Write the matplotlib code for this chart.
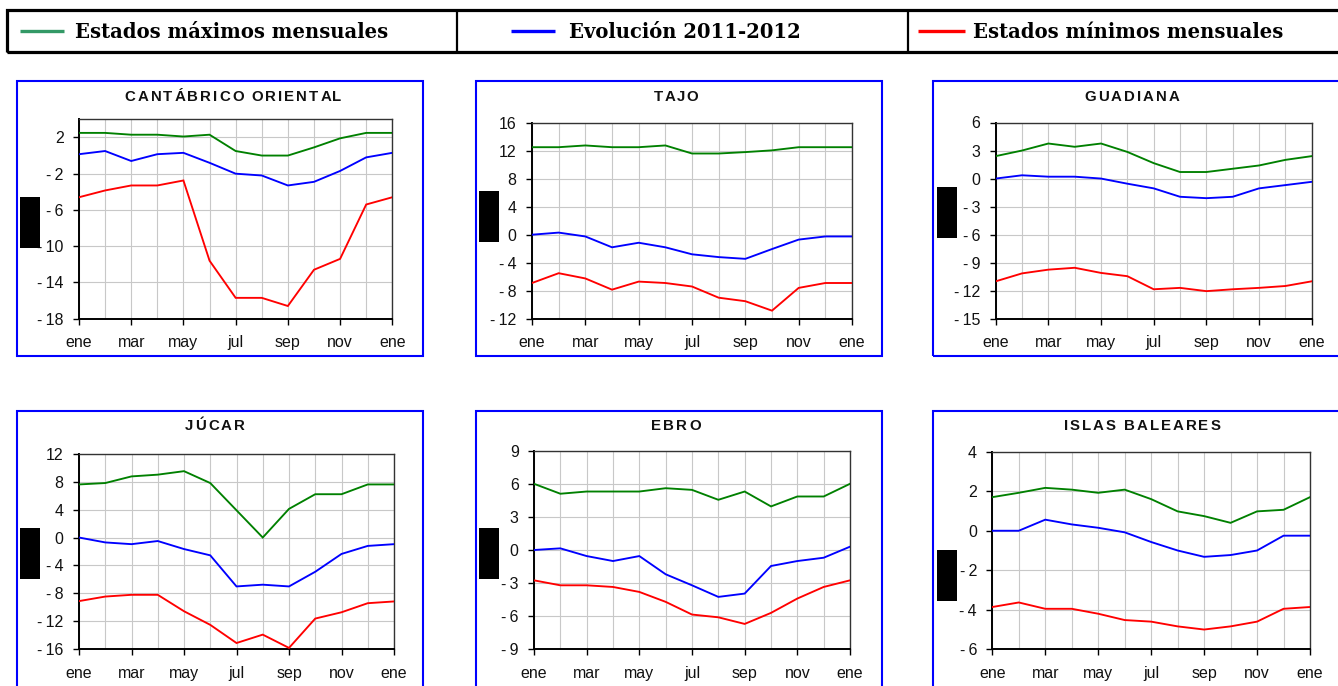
import matplotlib
matplotlib.use("Agg")
import matplotlib.pyplot as plt
import numpy as np
from matplotlib.patches import Rectangle
from matplotlib.lines import Line2D
from matplotlib.font_manager import FontProperties
from matplotlib.ticker import FixedLocator

W, H = 1338, 686

# ---------------- data ----------------
month_tick_labels = ["ene", "mar", "may", "jul", "sep", "nov", "ene"]
legend_labels = ["Estados máximos mensuales", "Evolución 2011-2012", "Estados mínimos mensuales"]
basin_titles = ["CANTÁBRICO ORIENTAL", "TAJO", "GUADIANA", "JÚCAR", "EBRO", "ISLAS BALEARES"]

cant_max = [2.5, 2.5, 2.3, 2.3, 2.1, 2.3, 0.5, 0.0, 0.0, 0.9, 1.9, 2.5, 2.5]
cant_evo = [0.15, 0.5, -0.6, 0.15, 0.3, -0.8, -2.0, -2.2, -3.3, -2.9, -1.7, -0.2, 0.3]
cant_min = [-4.6, -3.85, -3.3, -3.3, -2.75, -11.6, -15.7, -15.7, -16.6, -12.6, -11.4, -5.4, -4.6]

tajo_max = [12.5, 12.5, 12.75, 12.5, 12.5, 12.75, 11.6, 11.6, 11.8, 12.05, 12.5, 12.5, 12.5]
tajo_evo = [0.0, 0.3, -0.25, -1.8, -1.15, -1.8, -2.8, -3.2, -3.45, -2.05, -0.7, -0.25, -0.25]
tajo_min = [-6.9, -5.5, -6.25, -7.85, -6.7, -6.9, -7.4, -9.0, -9.5, -10.85, -7.6, -6.9, -6.9]

guad_max = [2.4, 3.0, 3.75, 3.4, 3.75, 2.85, 1.65, 0.7, 0.7, 1.05, 1.4, 2.0, 2.4]
guad_evo = [0.0, 0.35, 0.2, 0.2, 0.0, -0.55, -1.05, -1.95, -2.1, -1.95, -1.05, -0.7, -0.35]
guad_min = [-11.0, -10.15, -9.75, -9.55, -10.1, -10.45, -11.85, -11.7, -12.05, -11.85, -11.7, -11.5, -11.0]

jucar_max = [7.6, 7.8, 8.75, 9.0, 9.5, 7.8, 3.9, 0.0, 4.1, 6.2, 6.2, 7.6, 7.6]
jucar_evo = [0.0, -0.7, -0.95, -0.5, -1.65, -2.55, -7.0, -6.75, -7.0, -4.9, -2.35, -1.2, -0.95]
jucar_min = [-9.1, -8.45, -8.2, -8.2, -10.55, -12.5, -15.1, -13.9, -15.8, -11.6, -10.7, -9.4, -9.15]

ebro_max = [6.0, 5.1, 5.3, 5.3, 5.3, 5.6, 5.45, 4.55, 5.3, 3.95, 4.85, 4.85, 6.0]
ebro_evo = [0.0, 0.15, -0.55, -1.0, -0.55, -2.2, -3.2, -4.25, -3.95, -1.45, -1.0, -0.7, 0.3]
ebro_min = [-2.75, -3.2, -3.2, -3.35, -3.8, -4.7, -5.85, -6.1, -6.7, -5.7, -4.4, -3.35, -2.75]

bal_max = [1.7, 1.92, 2.17, 2.08, 1.92, 2.08, 1.6, 0.98, 0.74, 0.4, 0.98, 1.06, 1.7]
bal_evo = [0.0, 0.0, 0.56, 0.32, 0.15, -0.08, -0.57, -1.0, -1.32, -1.23, -1.0, -0.25, -0.25]
bal_min = [-3.86, -3.63, -3.95, -3.95, -4.2, -4.52, -4.6, -4.84, -5.0, -4.84, -4.6, -3.95, -3.86]

y_ranges = [(-18, 4, 4), (-12, 16, 4), (-15, 6, 3), (-16, 12, 4), (-9, 9, 3), (-6, 4, 2)]

series = [
    (cant_max, cant_evo, cant_min),
    (tajo_max, tajo_evo, tajo_min),
    (guad_max, guad_evo, guad_min),
    (jucar_max, jucar_evo, jucar_min),
    (ebro_max, ebro_evo, ebro_min),
    (bal_max, bal_evo, bal_min),
]

# ---------------- layout (pixels) ----------------
axes_px = [
    (79, 119.3, 392.3, 318.7),
    (532, 122.7, 852, 318.7),
    (995.7, 122.5, 1311.7, 318.7),
    (79, 453.7, 394, 649.3),
    (534, 450.7, 850, 649.3),
    (992.3, 451.7, 1310, 649.3),
]
frames_px = [
    (17, 81, 423, 356),
    (476, 81, 882, 356),
    (933, 81, 1360, 356),
    (17, 411, 423, 720),
    (476, 411, 882, 720),
    (933, 411, 1360, 720),
]
title_pos = [(233, 96), (676, 96), (1132, 96), (215, 425), (676, 425), (1142, 425)]
black_boxes = [
    (20, 197, 40, 248), (479, 191, 499, 242), (937, 187, 957, 238),
    (20, 528, 40, 579), (479, 528, 499, 579), (937, 550, 957, 601),
]

line_colors = ["#008000", "#0000FF", "#FF0000"]
legend_colors = ["#339966", "#0000FF", "#FF0000"]

fig = plt.figure(figsize=(W / 100, H / 100), dpi=100)
fig.patch.set_facecolor("white")


def fx(x):
    return x / W


def fy(y):
    return 1 - y / H


def frect(x0, y0, x1, y1, **kw):
    return Rectangle((fx(x0), fy(y1)), (x1 - x0) / W, (y1 - y0) / H,
                     transform=fig.transFigure, **kw)


# header box
fig.patches.append(frect(7, 10.5, 1400, 52, fill=False, edgecolor="black", linewidth=2.3))
for xd in (456.5, 907.5):
    fig.lines.append(Line2D([fx(xd), fx(xd)], [fy(10.5), fy(52)], transform=fig.transFigure,
                            color="black", linewidth=1.6))
leg_line_x = [(20, 64), (511, 555), (918, 965)]
leg_text_x = [75, 569, 973]
for (a, b), tx, lab, col in zip(leg_line_x, leg_text_x, legend_labels, legend_colors):
    fig.lines.append(Line2D([fx(a), fx(b)], [fy(31), fy(31)], transform=fig.transFigure,
                            color=col, linewidth=2.4, solid_capstyle="butt"))
    fig.text(fx(tx), fy(32), lab, ha="left", va="center", family="DejaVu Serif",
             fontweight="heavy", fontsize=14.1)

# frames
for f in frames_px:
    fig.patches.append(frect(*f, fill=False, edgecolor="#0000FF", linewidth=1.5))

title_prop = FontProperties(family="Liberation Sans", weight="bold", size=10.8)
renderer = fig.canvas.get_renderer()


def tw(t):
    a = renderer.get_text_width_height_descent("I" + t + "I", title_prop, ismath=False)[0]
    b = renderer.get_text_width_height_descent("II", title_prop, ismath=False)[0]
    return a - b


def spaced_title(xc, yc, s, spacing=2.0):
    total = tw(s) + spacing * (len(s) - 1)
    x0 = xc - total / 2
    cap = 0.716 * title_prop.get_size_in_points() * 100 / 72
    base = yc + cap / 2
    for i, ch in enumerate(s):
        if ch == " ":
            continue
        off = tw(s[:i]) + spacing * i
        fig.text(fx(x0 + off), fy(base), ch, fontproperties=title_prop,
                 ha="left", va="baseline", color="#111111")


def ylab(v):
    v = int(round(v))
    return "-\u2009%d" % abs(v) if v < 0 else "%d" % v


x = np.arange(13)
for k in range(6):
    x0, y0, x1, y1 = axes_px[k]
    ax = fig.add_axes([fx(x0), fy(y1), (x1 - x0) / W, (y1 - y0) / H])
    ax.set_axisbelow(True)
    for vals, col in zip(series[k], line_colors):
        ax.plot(x, vals, color=col, linewidth=1.35, solid_joinstyle="miter", zorder=3)
    lo, hi, st = y_ranges[k]
    ax.set_xlim(0, 12)
    ax.set_ylim(lo, hi)
    yt = np.arange(lo, hi + 0.01, st)
    ax.yaxis.set_major_locator(FixedLocator(yt))
    ax.set_yticklabels([ylab(v) for v in yt])
    ax.xaxis.set_major_locator(FixedLocator(np.arange(0, 13, 2)))
    ax.xaxis.set_minor_locator(FixedLocator(np.arange(1, 13, 2)))
    ax.set_xticklabels(month_tick_labels)
    ax.xaxis.grid(True, which="both", color="#c8c8c8", linewidth=0.8)
    ax.yaxis.grid(True, which="major", color="#c8c8c8", linewidth=0.8)
    ax.tick_params(axis="both", which="major", length=4, width=1.0, direction="out",
                   labelsize=11.5, colors="black")
    ax.tick_params(axis="x", which="major", pad=8)
    ax.tick_params(axis="y", which="major", pad=7)
    ax.tick_params(axis="x", which="minor", length=0)
    for lab in ax.get_xticklabels() + ax.get_yticklabels():
        lab.set_family("Liberation Sans")
        lab.set_color("#111111")
    for side in ("left", "bottom"):
        ax.spines[side].set_linewidth(1.4)
        ax.spines[side].set_color("black")
    for side in ("top", "right"):
        ax.spines[side].set_linewidth(1.0)
        ax.spines[side].set_color("#333333")
    spaced_title(title_pos[k][0], title_pos[k][1], basin_titles[k])

for b in black_boxes:
    fig.patches.append(frect(*b, facecolor="black", edgecolor="none"))

fig.savefig("out.png", dpi=100)
